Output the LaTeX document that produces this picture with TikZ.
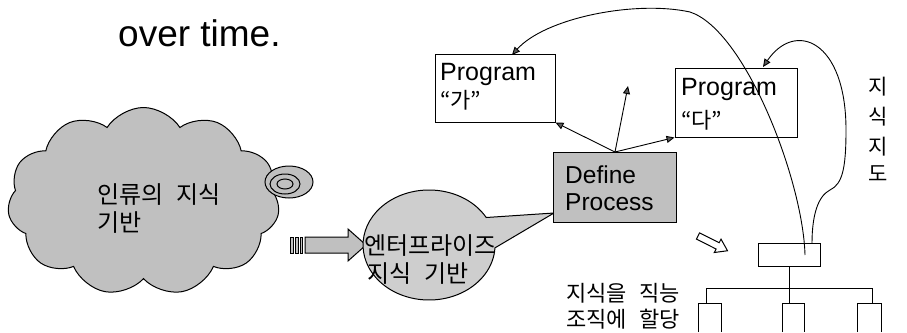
\documentclass[tikz,border=0pt]{standalone}
\usepackage{fontspec}
\setmainfont{Liberation Sans}
\newfontfamily\kr{Noto Sans CJK KR}
\usetikzlibrary{shapes.symbols,arrows.meta}

\definecolor{fillgray}{HTML}{C0C0C0}
\definecolor{lightfill}{HTML}{CECECE}
\definecolor{tipgray}{HTML}{5A5A5A}

\begin{document}
\begin{tikzpicture}[x=1pt,y=-1pt,
  outline/.style={draw=black, line width=1pt},
  box/.style={outline, fill=white, inner sep=0pt},
  graybox/.style={outline, fill=fillgray, inner sep=0pt},
  link/.style={draw=black, line width=0.9pt,
    -{Triangle[length=8pt,width=7pt,fill=tipgray]}},
  wire/.style={draw=black, line width=0.9pt},
  label/.style={inner sep=0pt},
  krbig/.style={label, font=\kr\fontsize{24}{28}\selectfont},
  krsmall/.style={label, font=\kr\fontsize{22}{26}\selectfont},
  krcap/.style={label, font=\kr\fontsize{21}{24}\selectfont},
  latin/.style={label, font=\fontsize{25}{30}\selectfont}]

\useasboundingbox (0,0) rectangle (907,332);
\fill[white] (0,0) rectangle (907,332);

% heading line
\node[label, anchor=base west, font=\fontsize{37}{44}\selectfont] (heading) at (118,46) {over time.};

% thought cloud with its small bubbles
\node[cloud, cloud puffs=11, cloud puff arc=115, aspect=1.45,
      graybox, minimum width=272pt, minimum height=188pt] (cloud) at (143.5,201.5) {};
\draw[outline, fill=fillgray] (289,182) ellipse [x radius=24, y radius=16];
\draw[outline, fill=fillgray] (285,184) ellipse [x radius=15, y radius=10];
\draw[outline, fill=fillgray] (285,184) ellipse [x radius=8, y radius=5];
\node[krbig, anchor=west] (cloudA) at (97,195) {인류의\hspace{0.55em}지식};
\node[krbig, anchor=west] (cloudB) at (97,223) {기반};

% striped block arrow
\foreach \xa/\xb in {290/293, 295/298, 300/302}
  \draw[outline, line width=0.6pt, fill=fillgray] (\xa,237) rectangle (\xb,253);
\draw[outline, fill=fillgray] (305,237) -- (348,237) -- (348,229) -- (366,245)
  -- (348,261) -- (348,253) -- (305,253) -- cycle;

% enterprise bubble with its pointer to the process box
\draw[outline, fill=lightfill] (486.2,217.5)
  arc[start angle=-30, end angle=-357, x radius=66, y radius=55]
  -- (554,213) -- cycle;
\node[krbig, anchor=west] (entA) at (364,246) {엔터프라이즈};
\node[krbig, anchor=west] (entB) at (367,274) {지식\hspace{0.55em}기반};

% program boxes
\node[box, minimum width=120pt, minimum height=68pt] (pga) at (495,88) {};
\node[box, minimum width=122pt, minimum height=69pt] (pgd) at (736,102.5) {};
\node[latin, anchor=base west] (pgaA) at (440,80) {Program};
\node[krsmall, anchor=west] (pgaB) at (440,100) {“가”};
\node[latin, anchor=base west] (pgdA) at (681,95) {Program};
\node[krsmall, anchor=west] (pgdB) at (681,120) {“다”};

% process box
\node[graybox, minimum width=123pt, minimum height=70pt] (proc) at (614.5,187) {};
\node[latin, anchor=base west, font=\fontsize{24.5}{30}\selectfont] (procA) at (565,183) {Define};
\node[latin, anchor=base west, font=\fontsize{24.5}{30}\selectfont] (procB) at (565,210) {Process};

% arrows out of the process box
\coordinate (ptop) at (615,152);
\coordinate (free) at (628,86);
\draw[link] (ptop) -- (pga.south east);
\draw[link] (ptop) -- (pgd.south west);
\draw[link] (ptop) -- (free);

% knowledge map node and its tree
\node[box, minimum width=62pt, minimum height=23pt] (map) at (789,254.5) {};
\coordinate (bar) at (789,288);
\draw[wire] (map.south) -- (bar);
\draw[wire] (706,288) -- (872,288);
\foreach \xd/\xl/\xr in {706/698/721, 789/782/804, 872/857/881} {
  \draw[wire] (\xd,288) -- (\xd,303);
  \draw[outline] (\xl,332) -- (\xl,303) -- (\xr,303) -- (\xr,332);
}
\node[krsmall, anchor=west] (allocA) at (566,293) {지식을\hspace{0.55em}직능};
\node[krsmall, anchor=west] (allocB) at (566,319) {조직에\hspace{0.55em}할당};

% hollow pointer towards the map
\draw[outline, fill=white] (696.4,239.1) -- (716.1,249.0) -- (714.3,252.5)
  -- (727.5,250.75) -- (721.0,239.1) -- (719.2,242.7) -- (699.6,232.9) -- cycle;

% curved links from the map to the programs
\coordinate (mapA) at (805,255);
\coordinate (mapB) at (812,243.5);
\coordinate (pgaTop) at (512,55);
\coordinate (pgdTop) at (763,67);
\draw[link] (mapA) .. controls (803,180) and (745,30) .. (690,12)
  .. controls (635,0) and (545,18) .. (pgaTop);
\draw[link] (mapB) .. controls (812,215) and (818,196) .. (830,190)
  .. controls (842,184) and (846,170) .. (846,130)
  .. controls (846,40) and (795,20) .. (pgdTop);

% vertical caption
\node[krcap, anchor=center] (capA) at (878,87) {지};
\node[krcap, anchor=center] (capB) at (878,117) {식};
\node[krcap, anchor=center] (capC) at (878,147) {지};
\node[krcap, anchor=center] (capD) at (878,174) {도};

\end{tikzpicture}
\end{document}
